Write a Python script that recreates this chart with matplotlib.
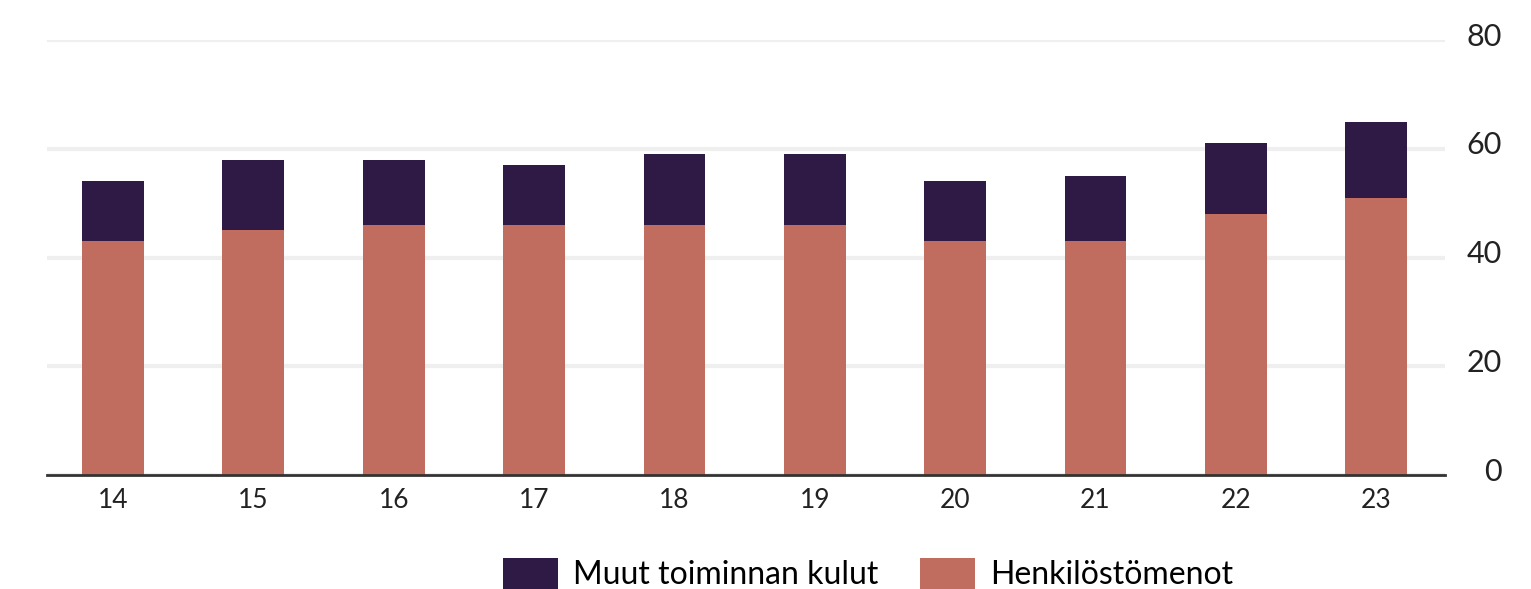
import matplotlib
matplotlib.use('Agg')
import matplotlib.pyplot as plt
import matplotlib.transforms as mtransforms
import numpy as np

years = ['14', '15', '16', '17', '18', '19', '20', '21', '22', '23']
henkilosto = [43, 45, 46, 46, 46, 46, 43, 43, 48, 51]
muut = [11, 13, 12, 11, 13, 13, 11, 12, 13, 14]
yticks = [0, 20, 40, 60, 80]

col_muut = '#2e1a45'
col_henk = '#c06c5e'

plt.rcParams['font.family'] = ['Lato', 'DejaVu Sans']

fig = plt.figure(figsize=(15.31, 5.89), dpi=100)
ax = fig.add_axes([0.0307, 0.1935, 0.9131, 0.7385])

x = np.arange(len(years))
ax.bar(x, henkilosto, width=0.44, color=col_henk, label='Henkilöstömenot', zorder=2)
ax.bar(x, muut, width=0.44, bottom=henkilosto, color=col_muut, label='Muut toiminnan kulut', zorder=2)

ax.set_xlim(-0.47, 9.49)
ax.set_ylim(0, 80)
ax.set_xticks(x)
ax.set_xticklabels(years)
ax.set_yticks(yticks)
ax.yaxis.tick_right()
ax.tick_params(axis='y', length=0, pad=41, labelsize=22, colors='#222222')
# labels sit a little above their gridlines
shift = mtransforms.ScaledTranslation(0, 0.06, fig.dpi_scale_trans)
for lab in ax.get_yticklabels():
    lab.set_horizontalalignment('right')
    lab.set_transform(lab.get_transform() + shift)
ax.tick_params(axis='x', length=0, pad=9, labelsize=19, colors='#222222')
ax.grid(axis='y', color='#efefef', linewidth=3, zorder=0)
ax.set_axisbelow(True)
for s in ['top', 'left', 'right']:
    ax.spines[s].set_visible(False)
ax.spines['bottom'].set_color('#333333')
ax.spines['bottom'].set_linewidth(2)
ax.spines['bottom'].set_zorder(3)

h, l = ax.get_legend_handles_labels()
fig.legend(h[::-1], l[::-1], loc='upper left', bbox_to_anchor=(0.3285, 0.0526),
           ncol=2, frameon=False, fontsize=23, handlelength=1.72, handleheight=1.1,
           handletextpad=0.47, columnspacing=1.3, borderpad=0, borderaxespad=0)

fig.savefig('out.png', dpi=100, facecolor='white')
